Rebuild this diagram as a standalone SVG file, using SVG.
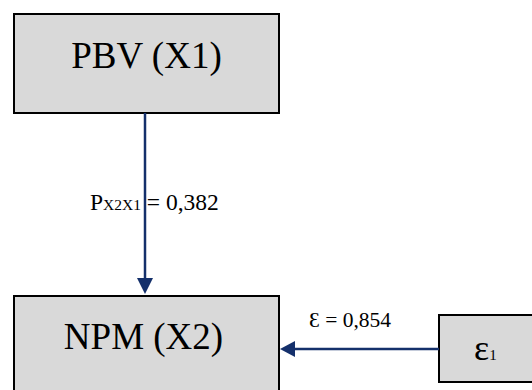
<svg xmlns="http://www.w3.org/2000/svg" width="532" height="390" viewBox="0 0 532 390">
<style>
.box{fill:#d9d9d9;stroke:#000;stroke-width:2}
.t{font-family:"Liberation Serif","Times New Roman","DejaVu Serif",serif;fill:#000}
.c{stroke:#14306b;stroke-width:2.5;fill:none}
.h{fill:#14306b}
</style>
<rect width="532" height="390" fill="#fff"/>
<g id="node-pbv">
<rect class="box" x="14" y="14" width="265" height="99"/>
<text class="t" x="146.5" y="68" font-size="37" text-anchor="middle">PBV (X1)</text>
</g>
<g id="node-npm">
<rect class="box" x="14" y="296" width="265" height="120"/>
<text class="t" x="143.5" y="349" font-size="37" text-anchor="middle">NPM (X2)</text>
</g>
<g id="node-e1">
<rect class="box" x="439" y="315" width="110" height="67"/>
<text class="t" x="474" y="360" font-size="36">ε<tspan font-size="15">1</tspan></text>
</g>
<g id="labels">
<text class="t" x="90" y="210" font-size="23.5">P<tspan font-size="15.5">X2X1</tspan> = 0,382</text>
<text class="t" x="309" y="327" font-size="21.5">Ɛ = 0,854</text>
</g>
<g id="connectors">
<line class="c" x1="145" y1="113" x2="145" y2="280"/>
<polygon class="h" points="137,278 153,278 145,294"/>
<line class="c" x1="439" y1="349" x2="293" y2="349"/>
<polygon class="h" points="295,341 295,357 280,349"/>
</g>
</svg>
